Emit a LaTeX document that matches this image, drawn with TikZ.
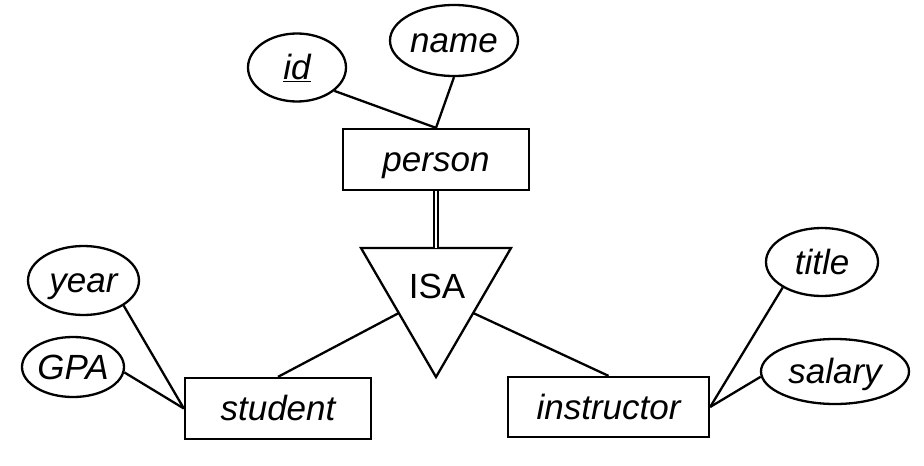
\documentclass[tikz,border=0pt]{standalone}
\usepackage{fontspec}
\setmainfont{Liberation Sans}
\usetikzlibrary{shapes.geometric,calc}
\tikzset{
  ent/.style={draw, rectangle, line width=2.3pt, inner sep=0pt, text height=24pt, text depth=0pt, font=\fontsize{35}{40}\selectfont\itshape},
  attr/.style={draw, ellipse, line width=2.3pt, inner sep=0pt, text height=24pt, text depth=0pt, font=\fontsize{35}{40}\selectfont\itshape},
  conn/.style={line width=2.3pt},
}
\begin{document}
\begin{tikzpicture}[x=1pt,y=-1pt]
\useasboundingbox (0,0) rectangle (924,466);
% entities
\node[ent, minimum width=186pt, minimum height=61pt] (person) at (436,159.5) {person};
\node[ent, minimum width=186pt, minimum height=61pt] (student) at (278,408.5) {student};
\node[ent, minimum width=201pt, minimum height=60pt] (instructor) at (608.5,407) {instructor};
% attributes
\node[attr, minimum width=98pt, minimum height=68pt] (id) at (297,67.5) {\underline{id}};
\node[attr, minimum width=128pt, minimum height=71pt] (name) at (454,40.5) {name};
\node[attr, minimum width=111pt, minimum height=69pt] (year) at (83.5,280.5) {year};
\node[attr, minimum width=102pt, minimum height=60pt] (gpa) at (73,367) {GPA};
\node[attr, minimum width=112pt, minimum height=68pt] (title) at (822,262) {title};
\node[attr, minimum width=148pt, minimum height=65pt] (salary) at (835,371.5) {salary};
% ISA triangle
\coordinate (isaL) at (361,248);
\coordinate (isaR) at (511,248);
\coordinate (isaB) at (436,377);
\coordinate (isaT) at (436,248);
\draw[conn, line join=miter] (isaL) -- (isaR) -- (isaB) -- cycle;
\node[font=\fontsize{35}{40}\selectfont, text height=24pt, text depth=0pt, inner sep=0pt] (isa) at (437,286) {ISA};
\coordinate (isaLs) at ($(isaL)!0.504!(isaB)$);
\coordinate (isaRs) at ($(isaR)!0.504!(isaB)$);
% connectors
\draw[conn] (id.-32) -- (person.north);
\draw[conn] (name.south) -- (person.north);
\draw[line width=2pt, double, double distance=2.4pt] (person.south) -- (isaT);
\draw[conn] (isaLs) -- (student.north);
\draw[conn] (isaRs) -- (instructor.north);
\draw[conn] (year.-32) -- (student.west);
\draw[conn] (gpa.-6) -- (student.west);
\draw[conn] (title.-147) -- (instructor.east);
\draw[conn] (salary.-176) -- (instructor.east);
\end{tikzpicture}
\end{document}
